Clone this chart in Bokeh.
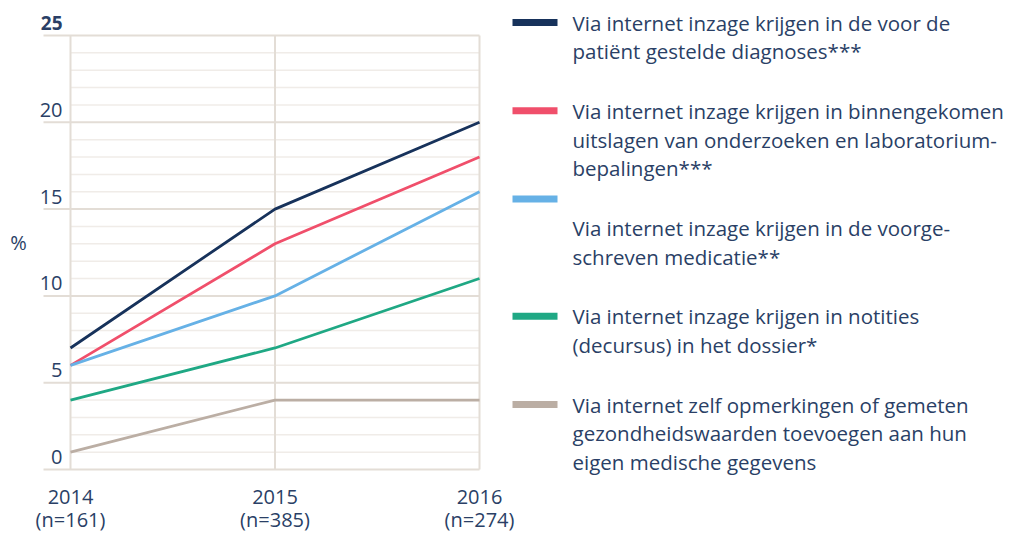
from bokeh.plotting import figure
from bokeh.models import Range1d
from bokeh.embed import file_html
from bokeh.resources import INLINE
from bokeh.core.properties import value

# ---------------- data ----------------
years = [2014, 2015, 2016]
sample_sizes = [161, 385, 274]

diagnoses = [7, 15, 20]
uitslagen = [6, 13, 18]
medicatie = [6, 10, 16]
notities = [4, 7, 11]
opmerkingen = [1, 4, 4]

series_values = [diagnoses, uitslagen, medicatie, notities, opmerkingen]
series_colors = ["#17325b", "#f04f6b", "#66b1e6", "#1fa884", "#bbaea4"]
series_labels = [
    ["Via internet inzage krijgen in de voor de", "patiënt gestelde diagnoses***"],
    ["Via internet inzage krijgen in binnengekomen",
     "uitslagen van onderzoeken en laboratorium-", "bepalingen***"],
    ["Via internet inzage krijgen in de voorge-", "schreven medicatie**"],
    ["Via internet inzage krijgen in notities", "(decursus) in het dossier*"],
    ["Via internet zelf opmerkingen of gemeten",
     "gezondheidswaarden toevoegen aan hun", "eigen medische gegevens"],
]
# legend swatch of the 3rd item sits one line above its text in the original
swatch_line_shift = [0, 0, -1, 0, 0]

y_major = [0, 5, 10, 15, 20, 25]
y_minor = [v for v in range(0, 26) if v not in y_major]
y_unit = "%"
y_unit_pos = 13.1

# ---------------- layout / style ----------------
FONT = "Open Sans"
TEXT = "#2a3f66"
GRID_MAJOR = "#e3ddd6"
GRID_MINOR = "#f0ece8"

W, H = 1011, 533
X0_PX, PX_PER_YEAR = 70, 204.5      # canvas x of first year, px per year
Y0_PX, PX_PER_UNIT = 469, 17.36     # canvas y of value 0, px per percent
TICK_EXT = 27                       # major gridlines reach this far left of the axis
LABEL_LIFT = 12.5                   # y tick labels sit this many px above their line

x_range = Range1d(years[0] - X0_PX / PX_PER_YEAR,
                  years[0] + (W - X0_PX) / PX_PER_YEAR)
y_range = Range1d(-(H - Y0_PX) / PX_PER_UNIT, Y0_PX / PX_PER_UNIT)

p = figure(width=W, height=H, x_range=x_range, y_range=y_range,
           output_backend="svg", toolbar_location=None, title=None,
           x_axis_type=None, y_axis_type=None,
           min_border_left=0, min_border_right=0, min_border_top=0, min_border_bottom=0)
p.outline_line_color = None
p.grid.visible = False
p.background_fill_color = "white"
p.border_fill_color = "white"
p.extra_x_ranges = {"px": Range1d(0, W)}
p.extra_y_ranges = {"px": Range1d(H, 0)}

# gridlines
p.segment(x0=[years[0]] * len(y_minor), x1=[years[-1]] * len(y_minor),
          y0=y_minor, y1=y_minor, line_color=GRID_MINOR, line_width=1.5)
x_ext = years[0] - TICK_EXT / PX_PER_YEAR
p.segment(x0=[x_ext] * len(y_major), x1=[years[-1]] * len(y_major),
          y0=y_major, y1=y_major, line_color=GRID_MAJOR, line_width=2)
p.segment(x0=years, x1=years, y0=[y_major[0]] * len(years), y1=[y_major[-1]] * len(years),
          line_color=GRID_MAJOR, line_width=2)

# data lines
for vals, col in zip(series_values, series_colors):
    p.line(years, vals, line_color=col, line_width=2.8)

# y tick labels, sitting just above their gridlines
lift = LABEL_LIFT / PX_PER_UNIT
p.text(x=[years[0]] * (len(y_major) - 1), y=[v + lift for v in y_major[:-1]],
       text=[str(v) for v in y_major[:-1]], x_offset=-8,
       text_align="right", text_baseline="middle",
       text_font=value(FONT), text_font_size="20px", text_color=TEXT)
p.text(x=[years[0]], y=[y_major[-1] + lift], text=[str(y_major[-1])], x_offset=-8,
       text_align="right", text_baseline="middle",
       text_font=value(FONT), text_font_size="19px", text_font_style="bold",
       text_color=TEXT)
p.text(x=[years[0]], y=[y_unit_pos], text=[y_unit], x_offset=-52,
       text_align="center", text_baseline="middle",
       text_font=value(FONT), text_font_size="20px", text_color=TEXT)

# x tick labels (two lines)
p.text(x=years, y=[496] * len(years), y_range_name="px",
       text=[str(y) for y in years],
       text_align="center", text_baseline="middle",
       text_font=value(FONT), text_font_size="20px", text_color=TEXT)
p.text(x=years, y=[519] * len(years), y_range_name="px",
       text=[f"(n={n})" for n in sample_sizes],
       text_align="center", text_baseline="middle",
       text_font=value(FONT), text_font_size="20px", text_color=TEXT)

# legend
LEG_SW_X0, LEG_SW_X1, LEG_TX = 512, 557, 572
LINE_H = 28.8
ITEM_GAP = 30.7
y = 22.0
tx, ty, tt = [], [], []
sy, sc = [], []
for lines, col, shift in zip(series_labels, series_colors, swatch_line_shift):
    sy.append(y + shift * LINE_H)
    sc.append(col)
    for ln in lines:
        tx.append(LEG_TX)
        ty.append(y)
        tt.append(ln)
        y += LINE_H
    y += ITEM_GAP

p.segment(x0=[LEG_SW_X0] * len(sy), x1=[LEG_SW_X1] * len(sy), y0=sy, y1=sy,
          x_range_name="px", y_range_name="px",
          line_color=sc, line_width=7, line_cap="butt")
p.text(x=tx, y=ty, text=tt, x_range_name="px", y_range_name="px",
       text_baseline="middle", text_align="left",
       text_font=value(FONT), text_font_size="20.5px", text_color=TEXT)

open("out.html", "w").write(file_html(p, INLINE))
